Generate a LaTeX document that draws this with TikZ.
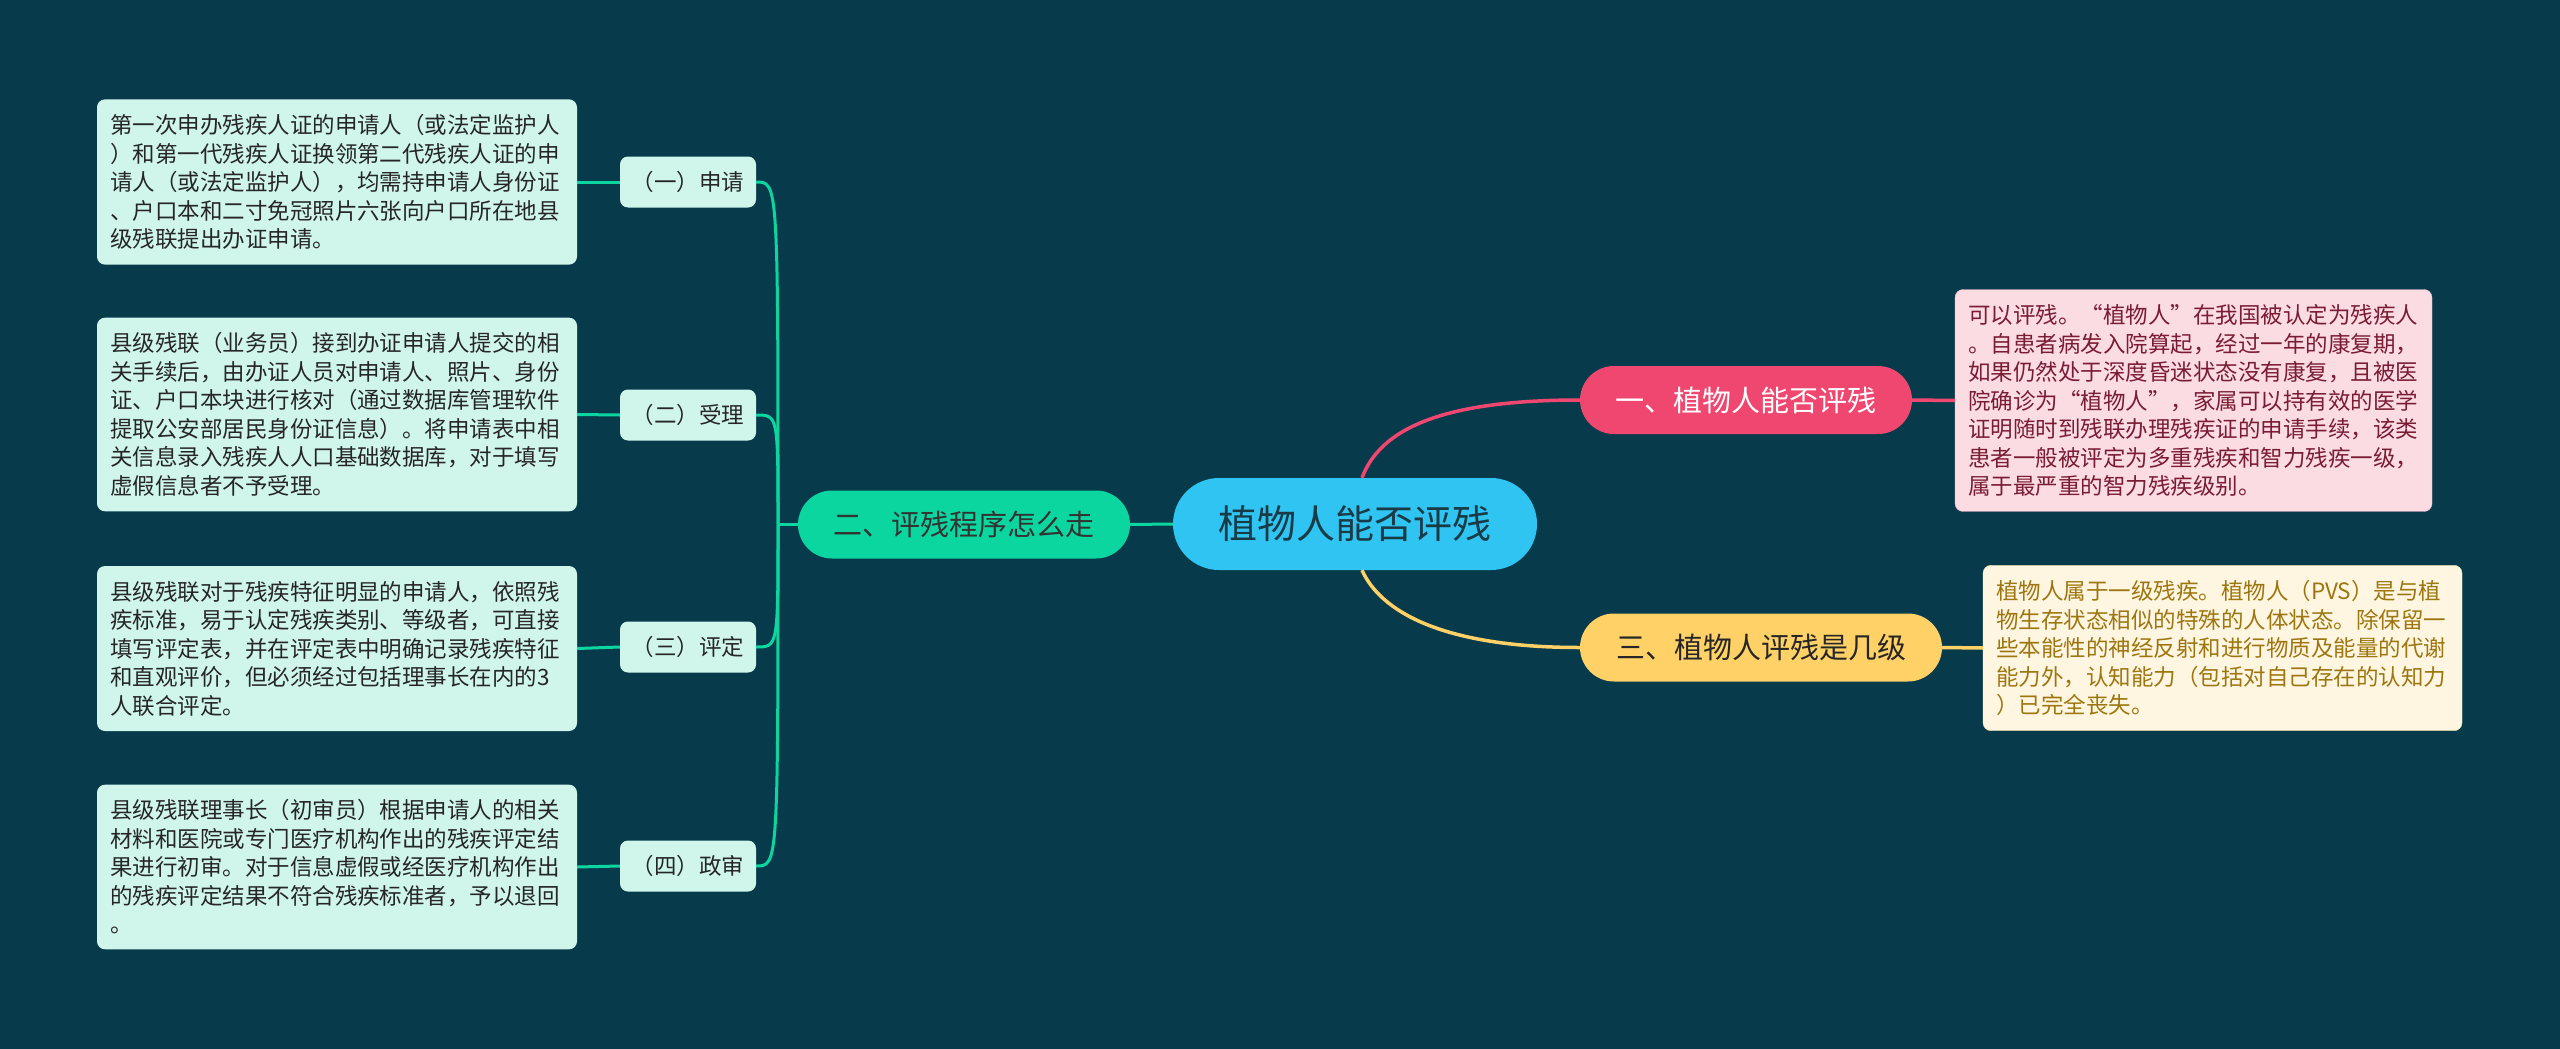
\documentclass[tikz,border=0pt]{standalone}
\usepackage{fontspec}
\setmainfont{Noto Sans CJK SC}
\usepackage{tikz}
\usetikzlibrary{calc}
\definecolor{bgdark}{HTML}{073B4C}
\definecolor{rootcyan}{HTML}{30C4F2}
\definecolor{rootink}{HTML}{183B46}
\definecolor{greenline}{HTML}{0BD6A0}
\definecolor{pinkline}{HTML}{EF476F}
\definecolor{yellowline}{HTML}{FFD166}
\definecolor{mintfill}{HTML}{D0F6EB}
\definecolor{pinkfill}{HTML}{FCDCE3}
\definecolor{pinkink}{HTML}{7A1C33}
\definecolor{creamfill}{HTML}{FFF6E1}
\definecolor{goldink}{HTML}{9E760F}

\begin{document}
\begin{tikzpicture}[x=1pt, y=-1pt,
  rootnode/.style={fill=rootcyan, text=rootink, rounded corners=46pt, minimum width=364pt, minimum height=92pt, font=\fontsize{39}{46}\selectfont},
  topic/.style={rounded corners=34pt, minimum width=332pt, minimum height=68pt, font=\fontsize{29}{35}\selectfont},
  subnode/.style={fill=mintfill, text=black!85, rounded corners=8pt, minimum width=136pt, minimum height=51pt, inner sep=0pt, font=\fontsize{22.5}{28.5}\selectfont},
  textbox/.style={rounded corners=8pt, text width=454pt, inner xsep=13pt, inner ysep=15pt, align=left, font=\fontsize{22.5}{28.5}\selectfont},
  lline/.style={draw=greenline, line width=3pt},
  mline/.style={line width=3.5pt}]
  % background and page size
  \fill[bgdark] (0,0) rectangle (2560,1049);
  \useasboundingbox (0,0) rectangle (2560,1049);

  %% centre and main topics
  \node[rootnode] (root) at (1355,524) {植物人能否评残};
  \node[topic, fill=greenline, text=black!80] (n2) at (964,524.5) {二、评残程序怎么走};
  \node[topic, fill=pinkline, text=white] (n1) at (1746,400) {一、植物人能否评残};
  \node[topic, fill=yellowline, text=black!85, minimum width=362pt] (n3) at (1761,647.5) {三、植物人评残是几级};

  %% left side: steps
  \node[subnode] (s1) at (688,182) {（一）申请};
  \node[subnode] (s2) at (688,415) {（二）受理};
  \node[subnode] (s3) at (688,647) {（三）评定};
  \node[subnode] (s4) at (688,866) {（四）政审};

  \node[textbox, fill=mintfill, text=black!85] (t1) at (337,182) {第一次申办残疾人证的申请人（或法定监护人\\）和第一代残疾人证换领第二代残疾人证的申\\请人（或法定监护人），均需持申请人身份证\\、户口本和二寸免冠照片六张向户口所在地县\\级残联提出办证申请。};
  \node[textbox, fill=mintfill, text=black!85] (t2) at (337,414.5) {县级残联（业务员）接到办证申请人提交的相\\关手续后，由办证人员对申请人、照片、身份\\证、户口本块进行核对（通过数据库管理软件\\提取公安部居民身份证信息）。将申请表中相\\关信息录入残疾人人口基础数据库，对于填写\\虚假信息者不予受理。};
  \node[textbox, fill=mintfill, text=black!85] (t3) at (337,648.5) {县级残联对于残疾特征明显的申请人，依照残\\疾标准，易于认定残疾类别、等级者，可直接\\填写评定表，并在评定表中明确记录残疾特征\\和直观评价，但必须经过包括理事长在内的3\\人联合评定。};
  \node[textbox, fill=mintfill, text=black!85] (t4) at (337,867) {县级残联理事长（初审员）根据申请人的相关\\材料和医院或专门医疗机构作出的残疾评定结\\果进行初审。对于信息虚假或经医疗机构作出\\的残疾评定结果不符合残疾标准者，予以退回\\。};

  %% right side: answers
  \node[textbox, fill=pinkfill, draw=pinkline!40, text=pinkink, text width=451pt] (tp) at (2193.5,400.5) {可以评残。“植物人”在我国被认定为残疾人\\。自患者病发入院算起，经过一年的康复期，\\如果仍然处于深度昏迷状态没有康复，且被医\\院确诊为“植物人”，家属可以持有效的医学\\证明随时到残联办理残疾证的申请手续，该类\\患者一般被评定为多重残疾和智力残疾一级，\\属于最严重的智力残疾级别。};
  \node[textbox, fill=creamfill, draw=yellowline!60, text=goldink, text width=453pt] (ty) at (2222.5,648) {植物人属于一级残疾。植物人（PVS）是与植\\物生存状态相似的特殊的人体状态。除保留一\\些本能性的神经反射和进行物质及能量的代谢\\能力外，认知能力（包括对自己存在的认知力\\）已完全丧失。};

  %% connectors
  \coordinate (j2) at (778,524.5);
  \draw[lline] (root.west) -- (n2.east);
  \draw[lline] (n2.west) -- (j2);
  \foreach \s/\t in {s1/t1, s2/t2, s3/t3, s4/t4}{
    \draw[lline] (j2) .. controls (j2 |- \s) and (j2 |- \s) .. (\s.east);
    \draw[lline] (\t.east) -- (\s.west);
  }
  \draw[mline, pinkline] ($(root.north)+(7,0)$) .. controls +(18,-48) and +(-140,0) .. (n1.west);
  \draw[mline, yellowline] ($(root.south)+(7,0)$) .. controls +(18,40) and +(-140,0) .. (n3.west);
  \draw[mline, pinkline] (n1.east) -- (tp.west);
  \draw[mline, yellowline] (n3.east) -- (ty.west);
\end{tikzpicture}
\end{document}
